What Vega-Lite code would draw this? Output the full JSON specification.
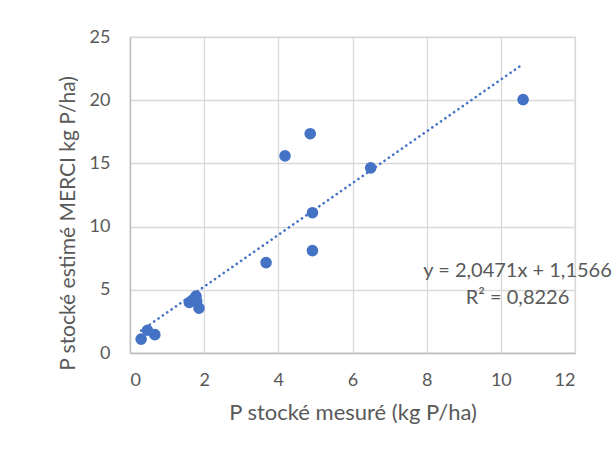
{
  "$schema": "https://vega.github.io/schema/vega-lite/v6.json",
  "width": 445,
  "height": 316,
  "autosize": {"type": "none"},
  "padding": {"left": 130, "top": 37, "right": 37, "bottom": 82},
  "background": "white",
  "config": {
    "view": {"stroke": "#d9d9d9", "strokeWidth": 1.3},
    "font": "Lato",
    "axis": {
      "grid": true,
      "gridColor": "#d9d9d9",
      "gridWidth": 1.3,
      "domainColor": "#bfbfbf",
      "domainWidth": 1.3,
      "ticks": false,
      "labelFont": "Lato",
      "labelFontSize": 18,
      "labelColor": "#595959",
      "titleFont": "Lato",
      "titleFontSize": 22,
      "titleFontWeight": "normal",
      "titleColor": "#595959"
    }
  },
  "layer": [
    {
      "data": {
        "values": [
          {"x": 0.3, "y": 1.1},
          {"x": 0.47, "y": 1.8},
          {"x": 0.67, "y": 1.45},
          {"x": 1.6, "y": 4.0},
          {"x": 1.7, "y": 4.2},
          {"x": 1.78, "y": 4.5},
          {"x": 1.8, "y": 4.1},
          {"x": 1.86, "y": 3.55},
          {"x": 3.67, "y": 7.15},
          {"x": 4.18, "y": 15.6},
          {"x": 4.86, "y": 17.35},
          {"x": 4.92, "y": 11.1},
          {"x": 4.92, "y": 8.1},
          {"x": 6.49, "y": 14.65},
          {"x": 10.6, "y": 20.05}
        ]
      },
      "mark": {"type": "point", "filled": true, "opacity": 1, "size": 135, "color": "#4472c4"},
      "encoding": {
        "x": {
          "field": "x", "type": "quantitative",
          "scale": {"domain": [0, 12], "nice": false},
          "axis": {"values": [0, 2, 4, 6, 8, 10, 12], "labelPadding": 18, "title": "P stocké mesuré (kg P/ha)", "titlePadding": 13}
        },
        "y": {
          "field": "y", "type": "quantitative",
          "scale": {"domain": [0, 25], "nice": false},
          "axis": {"values": [0, 5, 10, 15, 20, 25], "labelPadding": 20, "title": "P stocké estimé MERCI kg P/ha)", "titleFontSize": 21, "titlePadding": 11, "titleY": 186}
        }
      }
    },
    {
      "data": {
        "values": [
          {"x": 0.3, "y": 1.77},
          {"x": 10.6, "y": 22.86}
        ]
      },
      "mark": {"type": "line", "color": "#4472c4", "strokeWidth": 2.6, "strokeDash": [0.1, 5.2], "strokeCap": "round"},
      "encoding": {
        "x": {"field": "x", "type": "quantitative"},
        "y": {"field": "y", "type": "quantitative"}
      }
    },
    {
      "data": {
        "values": [
          {"x": 10.45, "y": 6.5, "label": "y = 2,0471x + 1,1566"},
          {"x": 10.45, "y": 4.35, "label": "R² = 0,8226"}
        ]
      },
      "mark": {"type": "text", "font": "Lato", "fontSize": 20, "color": "#595959", "align": "center", "baseline": "middle"},
      "encoding": {
        "x": {"field": "x", "type": "quantitative"},
        "y": {"field": "y", "type": "quantitative"},
        "text": {"field": "label"}
      }
    }
  ]
}
